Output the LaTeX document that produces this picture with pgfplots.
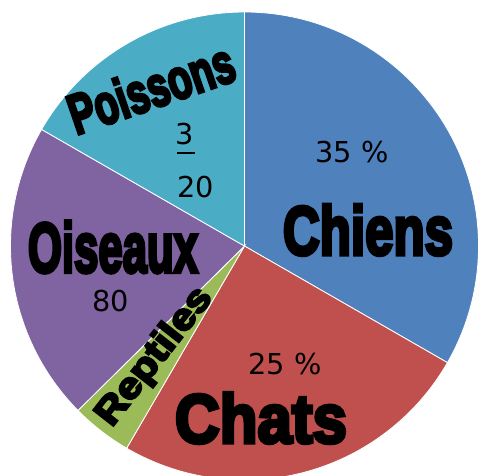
\documentclass[border=0pt]{standalone}
\usepackage{pgfplots}
\usepackage{pgfplotstable}
\pgfplotsset{compat=1.18}
\usepackage{fontspec}
\setmainfont{DejaVu Sans}
\newfontfamily\numfont{DejaVu Sans}
\newfontfamily\heavy{Liberation Sans}[BoldFeatures={FakeBold=5.5}]
\definecolor{cChiens}{HTML}{4F81BD}
\definecolor{cChats}{HTML}{C0504D}
\definecolor{cReptiles}{HTML}{9BBB59}
\definecolor{cOiseaux}{HTML}{8064A2}
\definecolor{cPoissons}{HTML}{4BACC6}

\pgfplotstableread{
label value
Chiens 33.3
Chats 25.1
Reptiles 4.2
Oiseaux 20.7
Poissons 16.7
}\pietable
\pgfplotstablegetelem{0}{value}\of\pietable \let\vA\pgfplotsretval
\pgfplotstablegetelem{1}{value}\of\pietable \let\vB\pgfplotsretval
\pgfplotstablegetelem{2}{value}\of\pietable \let\vC\pgfplotsretval
\pgfplotstablegetelem{3}{value}\of\pietable \let\vD\pgfplotsretval
\pgfplotstablegetelem{4}{value}\of\pietable \let\vE\pgfplotsretval
\pgfmathsetmacro\aA{90}
\pgfmathsetmacro\aB{\aA-3.6*\vA}
\pgfmathsetmacro\aC{\aB-3.6*\vB}
\pgfmathsetmacro\aD{\aC-3.6*\vC}
\pgfmathsetmacro\aE{\aD-3.6*\vD}
\pgfmathsetmacro\aF{\aE-3.6*\vE}

\begin{document}%
\begin{tikzpicture}
\begin{axis}[
  x=1cm, y=1cm,
  xmin=-4.179, xmax=3.991, ymin=-3.915, ymax=4.205,
  enlargelimits=false,
  hide axis,
  clip=true,
]
\coordinate (SW) at (axis cs:-4.179,-3.915);
\coordinate (NE) at (axis cs:3.991,4.205);
\filldraw[fill=cChiens, draw=white, line width=0.4pt] (axis cs:0,0) -- (axis cs:{4*cos(\aA)},{4*sin(\aA)}) arc[start angle=\aA, end angle=\aB, radius=4cm] -- cycle;
\filldraw[fill=cChats, draw=white, line width=0.4pt] (axis cs:0,0) -- (axis cs:{4*cos(\aB)},{4*sin(\aB)}) arc[start angle=\aB, end angle=\aC, radius=4cm] -- cycle;
\filldraw[fill=cReptiles, draw=white, line width=0.4pt] (axis cs:0,0) -- (axis cs:{4*cos(\aC)},{4*sin(\aC)}) arc[start angle=\aC, end angle=\aD, radius=4cm] -- cycle;
\filldraw[fill=cOiseaux, draw=white, line width=0.4pt] (axis cs:0,0) -- (axis cs:{4*cos(\aD)},{4*sin(\aD)}) arc[start angle=\aD, end angle=\aE, radius=4cm] -- cycle;
\filldraw[fill=cPoissons, draw=white, line width=0.4pt] (axis cs:0,0) -- (axis cs:{4*cos(\aE)},{4*sin(\aE)}) arc[start angle=\aE, end angle=\aF, radius=4cm] -- cycle;

\node[inner sep=0pt] at (axis cs:2.111,0.274) {\resizebox{2.906cm}{0.855cm}{\heavy\bfseries Chiens}};
\node[inner sep=0pt] at (axis cs:0.282,-2.940) {\resizebox{2.94cm}{0.855cm}{\heavy\bfseries Chats}};
\node[inner sep=0pt] at (axis cs:-2.248,-0.017) {\resizebox{2.906cm}{0.872cm}{\heavy\bfseries Oiseaux}};
\node[inner sep=0pt, rotate=19] at (axis cs:-1.598,2.701) {\resizebox{2.94cm}{0.70cm}{\heavy\bfseries Poissons}};
\node[inner sep=0pt, rotate=52] at (axis cs:-1.530,-1.897) {\resizebox*{2.82cm}{0.59cm}{\heavy\bfseries Reptiles}};

\node[inner sep=0pt, font=\numfont\fontsize{14}{16}\selectfont] at (axis cs:1.838,1.607) {35 \%};
\node[inner sep=0pt, font=\numfont\fontsize{14}{16}\selectfont] at (axis cs:0.692,-2.017) {25 \%};
\node[inner sep=0pt, font=\numfont\fontsize{14}{16}\selectfont] at (axis cs:-1.017,1.915) {3};
\node[inner sep=0pt] at (axis cs:-1.000,1.590) {\rule{0.31cm}{0.045cm}};
\node[inner sep=0pt, font=\numfont\fontsize{14}{16}\selectfont] at (axis cs:-0.829,1.009) {20};
\node[inner sep=0pt, font=\numfont\fontsize{14}{16}\selectfont] at (axis cs:-2.282,-0.932) {80};
\end{axis}
\pgfresetboundingbox
\path[use as bounding box] (SW) rectangle (NE);
\end{tikzpicture}%
\end{document}
